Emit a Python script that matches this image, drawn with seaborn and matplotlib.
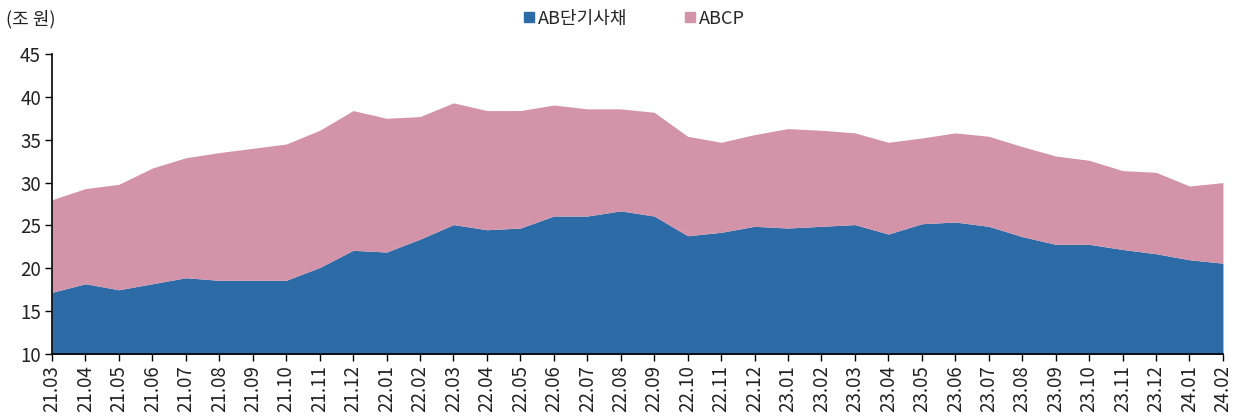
import matplotlib
matplotlib.use("Agg")
import matplotlib.pyplot as plt
from matplotlib.lines import Line2D
import seaborn as sns

months = ["21.03", "21.04", "21.05", "21.06", "21.07", "21.08", "21.09", "21.10",
          "21.11", "21.12", "22.01", "22.02", "22.03", "22.04", "22.05", "22.06",
          "22.07", "22.08", "22.09", "22.10", "22.11", "22.12", "23.01", "23.02",
          "23.03", "23.04", "23.05", "23.06", "23.07", "23.08", "23.09", "23.10",
          "23.11", "23.12", "24.01", "24.02"]

# AB단기사채 (조 원)
ab_stb = [17.2, 18.2, 17.5, 18.2, 18.9, 18.6, 18.6, 18.6,
          20.1, 22.1, 21.9, 23.4, 25.1, 24.5, 24.7, 26.1,
          26.1, 26.7, 26.1, 23.8, 24.2, 24.9, 24.7, 24.9,
          25.1, 24.0, 25.2, 25.4, 24.9, 23.7, 22.8, 22.8,
          22.2, 21.7, 21.0, 20.6]

# ABCP (조 원), stacked on top of AB단기사채
abcp = [10.8, 11.1, 12.3, 13.5, 14.0, 14.9, 15.4, 15.9,
        16.0, 16.3, 15.6, 14.3, 14.2, 13.9, 13.7, 12.95,
        12.5, 11.9, 12.1, 11.6, 10.5, 10.7, 11.6, 11.2,
        10.7, 10.7, 10.0, 10.4, 10.5, 10.5, 10.3, 9.8,
        9.2, 9.5, 8.6, 9.4]

series_names = ["AB단기사채", "ABCP"]
colors = ["#2D6BA7", "#D393A8"]

sns.set_style("white")
plt.rcParams['font.family'] = ['Noto Sans CJK KR', 'DejaVu Sans']
plt.rcParams['axes.unicode_minus'] = False

fig = plt.figure(figsize=(12.47, 4.17), dpi=100)
ax = fig.add_axes([0.0417, 0.151, 0.9390, 0.7195])

x = list(range(len(months)))
ax.stackplot(x, ab_stb, abcp, colors=colors, linewidth=0)

ax.set_xlim(0, len(months) - 1)
ax.set_ylim(10, 45)
ax.set_yticks(range(10, 46, 5))
ax.set_xticks(x)
ax.set_xticklabels(months, rotation=90)
ax.tick_params(axis='both', direction='out', length=5, width=1, colors='black',
               labelsize=13.5, pad=3, bottom=True, left=True)
for lbl in ax.get_xticklabels() + ax.get_yticklabels():
    lbl.set_color('#222222')

sns.despine(ax=ax, top=True, right=True)
for side in ['left', 'bottom']:
    ax.spines[side].set_color('black')
    ax.spines[side].set_linewidth(1.2)
ax.grid(False)

fig.text(0.005, 0.955, "(조 원)", fontsize=13, color='#222222', ha='left', va='center')

handles = [Line2D([0], [0], marker='s', linestyle='none', markersize=7,
                  markerfacecolor=c, markeredgecolor=c) for c in colors]
fig.legend(handles, series_names, loc='center', bbox_to_anchor=(0.508, 0.955),
           ncol=2, frameon=False, fontsize=13, handletextpad=0.15,
           columnspacing=3.1, handlelength=0.7)

fig.savefig("out.png", dpi=100)
